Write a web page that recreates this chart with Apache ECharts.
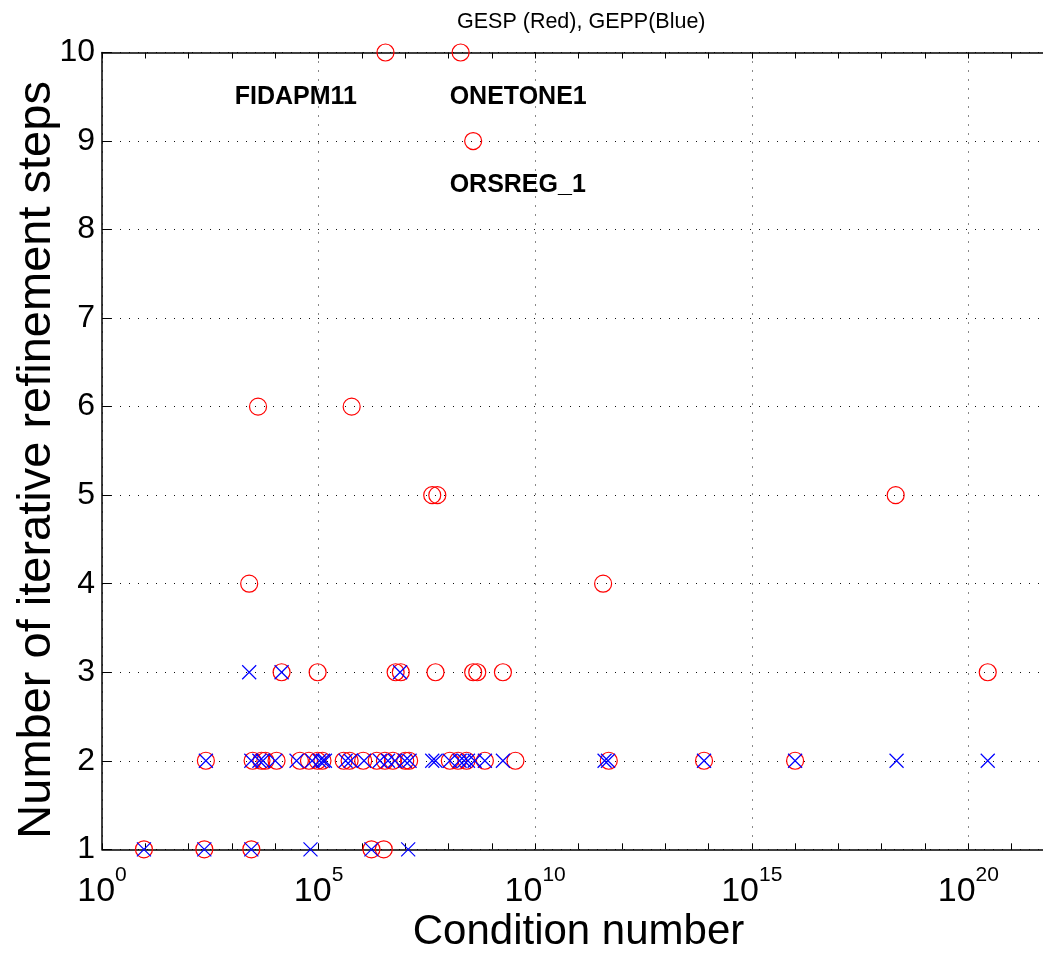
<!DOCTYPE html>
<html><head><meta charset="utf-8">
<script src="https://cdn.jsdelivr.net/npm/echarts@6/dist/echarts.min.js"></script>
<style>html,body{margin:0;padding:0;background:#fff}#c{width:1043px;height:953px}</style>
</head><body><div id="c"></div>
<script>
const titleText = 'GESP (Red), GEPP(Blue)';
const xName = 'Condition number';
const yName = 'Number of iterative refinement steps';
const xMin = 1, xMax = 1e22;   // plot box is cropped at the right edge of the image
const yMin = 1, yMax = 10;

// GESP (red circles): [condition number, refinement steps]
const gespPoints = [
  [3.5e6,10],[1.9e8,10],
  [3.7e8,9],
  [4.0e3,6],[5.8e5,6],
  [4.2e7,5],[5.5e7,5],[2.1e18,5],
  [2.5e3,4],[3.7e11,4],
  [1.4e4,3],[9.5e4,3],[6.0e6,3],[7.9e6,3],[5.0e7,3],[3.7e8,3],[4.6e8,3],[1.8e9,3],[2.8e20,3],
  [2.5e2,2],[3.0e3,2],[4.8e3,2],[5.9e3,2],[1.07e4,2],[3.7e4,2],[6.0e4,2],[9.5e4,2],[1.23e5,2],
  [3.8e5,2],[5.2e5,2],[1.07e6,2],[2.2e6,2],[3.4e6,2],[5.2e6,2],[1.0e7,2],[1.23e7,2],
  [1.07e8,2],[1.66e8,2],[2.6e8,2],[6.9e8,2],[3.5e9,2],[5.0e11,2],[7.9e13,2],[1.0e16,2],
  [9.3,1],[2.3e2,1],[2.8e3,1],[1.66e6,1],[3.2e6,1]
];
// GEPP (blue crosses)
const geppPoints = [
  [2.5e3,3],[1.4e4,3],[7.6e6,3],
  [2.5e2,2],[2.8e3,2],[4.3e3,2],[5.2e3,2],[1.0e4,2],[3.1e4,2],[7.1e4,2],[1.05e5,2],[1.26e5,2],
  [1.4e5,2],[4.2e5,2],[5.5e5,2],[1.12e6,2],[2.6e6,2],[4.0e6,2],[5.8e6,2],[9.8e6,2],[1.26e7,2],
  [4.2e7,2],[5.0e7,2],[1.07e8,2],[1.8e8,2],[2.3e8,2],[2.8e8,2],[4.0e8,2],[6.9e8,2],[1.8e9,2],
  [4.0e11,2],[4.8e11,2],[7.9e13,2],[1.0e16,2],[2.2e18,2],[2.8e20,2],
  [9.3,1],[2.3e2,1],[2.8e3,1],[6.5e4,1],[1.66e6,1],[1.17e7,1]
];
// text annotations (anchored at left edge)
const annoText = ['FIDAPM11','ONETONE1','ORSREG_1'];
const annoCond = [1.16e3, 1.06e8, 1.06e8];
const annoSteps = [9.5, 9.5, 8.5];

const FONT = '"Liberation Sans", Arial, Helvetica, sans-serif';
const chart = echarts.init(document.getElementById('c'));
const expOf = v => Math.round(Math.log10(v));
const dotted = {color:'#111', width:1, type:[1,8]};
const blackLine = {color:'#000', width:1.5};
const tickStyle = {color:'#000', width:1};

chart.setOption({
  animation:false,
  backgroundColor:'#fff',
  title:{text:titleText, left:452, top:6, textStyle:{fontFamily:FONT, fontWeight:'normal', fontSize:21.5, color:'#000'}},
  grid:{left:102, right:-12, top:52.5, bottom:103.7, containLabel:false, outerBoundsMode:'none'},
  xAxis:[{
    type:'log', logBase:10, min:xMin, max:xMax, interval:1,
    name:xName, nameLocation:'middle', nameGap:62, nameMoveOverlap:false,
    nameTextStyle:{fontFamily:FONT, fontSize:42, color:'#000'},
    axisLine:{show:true, onZero:false, lineStyle:blackLine},
    axisTick:{show:true, inside:true, length:6, lineStyle:tickStyle},
    minorTick:{show:false},
    axisLabel:{show:true, margin:15, color:'#000', fontFamily:FONT, hideOverlap:false,
      formatter: v => { const e = expOf(v); return e % 5 === 0 ? '{b|10}{s|' + e + '}' : ''; },
      rich:{
        b:{fontSize:34, lineHeight:44, verticalAlign:'bottom', fontFamily:FONT, color:'#000'},
        s:{fontSize:21, lineHeight:22, verticalAlign:'top', fontFamily:FONT, color:'#000'}
      }},
    splitLine:{show:false}
  },{
    type:'log', logBase:10, min:xMin, max:xMax, interval:1, position:'top',
    axisLine:{show:true, onZero:false, lineStyle:blackLine},
    axisTick:{show:true, inside:true, length:6, lineStyle:tickStyle},
    axisLabel:{show:false}, splitLine:{show:false}
  },{
    // major grid every 5 decades
    type:'log', logBase:10, min:xMin, max:xMax, interval:5, position:'bottom', offset:0,
    axisLine:{show:false}, axisTick:{show:false}, axisLabel:{show:false},
    splitLine:{show:true, lineStyle:dotted}
  }],
  yAxis:{
    type:'value', min:yMin, max:yMax, interval:1,
    name:yName, nameLocation:'middle', nameGap:41, nameMoveOverlap:false,
    nameTextStyle:{fontFamily:FONT, fontSize:47, color:'#000', padding:[0,18,0,0]},
    axisLine:{show:true, onZero:false, lineStyle:blackLine},
    axisTick:{show:true, inside:true, length:9, lineStyle:tickStyle},
    axisLabel:{margin:7, fontSize:32, fontFamily:FONT, color:'#000'},
    splitLine:{show:true, lineStyle:dotted}
  },
  series:[
    {type:'scatter', name:'GESP', xAxisIndex:0, data:gespPoints, symbol:'circle', symbolSize:17,
     itemStyle:{color:'rgba(0,0,0,0)', borderColor:'#ff0000', borderWidth:1.2, opacity:1}, emphasis:{disabled:true}, silent:true, z:3},
    {type:'scatter', name:'GEPP', xAxisIndex:0, data:geppPoints, symbol:'path://M0,0L10,10M10,0L0,10', symbolSize:14,
     itemStyle:{color:'rgba(0,0,0,0)', borderColor:'#0000ff', borderWidth:1.2, opacity:1}, emphasis:{disabled:true}, silent:true, z:4},
    {type:'scatter', name:'notes', xAxisIndex:0, symbolSize:0, silent:true, z:5,
     itemStyle:{opacity:1},
     data: annoText.map((t,i)=>({name:t, value:[annoCond[i], annoSteps[i]]})),
     label:{show:true, position:'right', distance:0, formatter:p=>p.name, fontFamily:FONT, fontWeight:'bold', fontSize:25, color:'#000', opacity:1}}
  ]
});
</script></body></html>
